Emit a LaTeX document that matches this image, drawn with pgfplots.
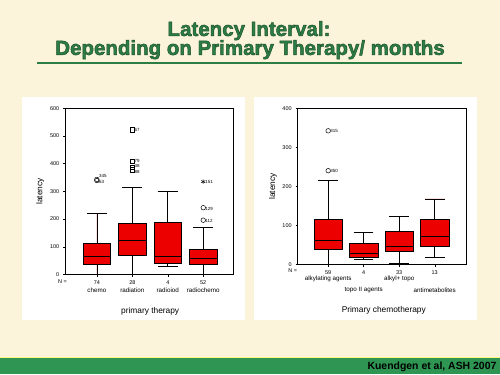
\documentclass[border=0pt]{standalone}
\usepackage{pgfplots}
\pgfplotsset{compat=1.18}
\usepgfplotslibrary{statistics}
\usepackage{fontspec}
\setmainfont{Liberation Sans}
\definecolor{bgcream}{RGB}{251,244,218}
\definecolor{titlegreen}{RGB}{44,125,68}
\definecolor{bargreen}{RGB}{46,150,82}
\definecolor{boxred}{RGB}{236,0,0}
\newcommand{\ticksz}{\fontsize{5.5}{6}\selectfont}
\newcommand{\labsz}{\fontsize{4.5}{5}\selectfont}
\newcommand{\outlined}[1]{\special{pdf:literal 2 Tr 0.45 w 0.10 0.30 0.16 RG}#1\special{pdf:literal 0 Tr}}
\pgfplotsset{
  slide axis/.style={
    scale only axis, clip=false,
    axis line style={black, line width=0.7bp},
    tick align=outside, major tick length=2bp,
    tick style={black, line width=0.5bp},
    ytick pos=left, xtick pos=bottom,
    tick label style={font=\ticksz},
    /pgf/number format/assume math mode=true,
    yticklabel style={xshift=-0.5bp},
    xticklabel style={yshift=-0.5bp},
    xtick={1,2,3,4},
    boxplot/draw direction=y,
  },
  mybox/.style={draw=black, line width=0.6bp, fill=boxred},
  outl/.style={only marks, black, mark size=2.3bp, mark options={line width=0.5bp, fill=white},
    nodes near coords, point meta=explicit symbolic,
    nodes near coords style={anchor=west, xshift=1.5bp, font=\labsz, inner sep=0.5bp, text=black}},
}
\begin{document}
\begin{tikzpicture}[x=1bp,y=1bp]
\fill[bgcream] (0,0) rectangle (500,375);
\fill[white] (21.7,54.3) rectangle (245,278.3);
\fill[white] (254,54.3) rectangle (477.3,278.3);
\fill[bargreen] (0,0) rectangle (500,17);
\draw[yellow!50!white, line width=0.8bp] (0,17.3) -- (500,17.3);
% title
\node[anchor=base, font=\fontsize{20.6}{22}\selectfont\bfseries, text=titlegreen, inner sep=0] at (249,339) {\outlined{Latency Interval:}};
\node[anchor=base, font=\fontsize{20.6}{22}\selectfont\bfseries, text=titlegreen, inner sep=0] at (250,320) {\outlined{Depending on Primary Therapy/ months}};
\draw[titlegreen, line width=1.5bp] (37,312) -- (462,312);
% footer
\node[anchor=base east, font=\fontsize{10.5}{12}\selectfont\bfseries, inner sep=0] at (497,4.5) {Kuendgen et al, ASH 2007};

% ---------- left chart ----------
\begin{axis}[slide axis,
  at={(65bp,100bp)}, anchor=south west,
  width=168bp, height=166.7bp,
  xmin=0.11, xmax=4.84, ymin=0, ymax=600,
  ytick={0,100,...,600},
  xticklabels={74,28,4,52},
]
\addplot[mybox, boxplot prepared={lower whisker=0, lower quartile=37, median=66, upper quartile=113, upper whisker=220, draw position=1, box extend=0.77, whisker extend=0.56}] coordinates {};
\addplot[mybox, boxplot prepared={lower whisker=0, lower quartile=69, median=125, upper quartile=184, upper whisker=313, draw position=2, box extend=0.77, whisker extend=0.56}] coordinates {};
\addplot[mybox, boxplot prepared={lower whisker=30, lower quartile=41, median=66, upper quartile=188, upper whisker=301, draw position=3, box extend=0.77, whisker extend=0.56}] coordinates {};
\addplot[mybox, boxplot prepared={lower whisker=0, lower quartile=37, median=60, upper quartile=91, upper whisker=170, draw position=4, box extend=0.77, whisker extend=0.56}] coordinates {};
\addplot[outl, mark=o, nodes near coords style={yshift=-1.2bp}] table[meta=lab] {
x y lab
1 339 63
4 241 129
4 196 112
};
\addplot[outl, mark=o, nodes near coords style={yshift=3bp}] table[meta=lab] {
x y lab
1 343 345
};
\addplot[outl, mark=square] table[meta=lab] {
x y lab
2 522 67
2 409 79
};
\addplot[outl, mark=square, nodes near coords style={yshift=1.6bp}] table[meta=lab] {
x y lab
2 387 38
};
\addplot[outl, mark=square, nodes near coords style={yshift=-1.6bp}] table[meta=lab] {
x y lab
2 377 88
};
\addplot[outl, mark=asterisk] table[meta=lab] {
x y lab
4 335 151
};
\node[font=\ticksz, anchor=east] at (rel axis cs:0,0) [yshift=-6.7bp, xshift=5bp] {N =};
\node[font=\fontsize{6.3}{7}\selectfont] at (axis cs:1,0) [yshift=-15.7bp] {chemo};
\node[font=\fontsize{6.3}{7}\selectfont] at (axis cs:2,0) [yshift=-15.7bp] {radiation};
\node[font=\fontsize{6.3}{7}\selectfont] at (axis cs:3,0) [yshift=-15.7bp] {radioiod};
\node[font=\fontsize{6.3}{7}\selectfont] at (axis cs:4,0) [yshift=-15.7bp] {radiochemo};
\end{axis}
\node[rotate=90, font=\fontsize{8.4}{9}\selectfont] at (40,183.3) {latency};
\node[font=\fontsize{8.4}{9}\selectfont] at (150,63) {primary therapy};

% ---------- right chart ----------
\begin{axis}[slide axis,
  at={(297.7bp,110bp)}, anchor=south west,
  width=169bp, height=156.7bp,
  xmin=0.14, xmax=4.89, ymin=0, ymax=400,
  ytick={0,100,...,400},
  xticklabels={59,4,33,13},
]
\addplot[mybox, boxplot prepared={lower whisker=0, lower quartile=40, median=62, upper quartile=116, upper whisker=215, draw position=1, box extend=0.8, whisker extend=0.55}] coordinates {};
\addplot[mybox, boxplot prepared={lower whisker=14, lower quartile=19, median=30, upper quartile=55, upper whisker=83, draw position=2, box extend=0.8, whisker extend=0.55}] coordinates {};
\addplot[mybox, boxplot prepared={lower whisker=3, lower quartile=35, median=48, upper quartile=86, upper whisker=123, draw position=3, box extend=0.8, whisker extend=0.55}] coordinates {};
\addplot[mybox, boxplot prepared={lower whisker=19, lower quartile=47, median=72, upper quartile=117, upper whisker=168, draw position=4, box extend=0.8, whisker extend=0.55}] coordinates {};
\addplot[outl, mark=o] table[meta=lab] {
x y lab
1 342 315
1 240 350
};
\node[font=\ticksz, anchor=east] at (rel axis cs:0,0) [yshift=-6.3bp, xshift=3bp] {N =};
\node[font=\fontsize{6.3}{7}\selectfont] at (axis cs:1,0) [yshift=-14.7bp] {alkylating agents};
\node[font=\fontsize{6.3}{7}\selectfont] at (axis cs:2,0) [yshift=-25.3bp] {topo II agents};
\node[font=\fontsize{6.3}{7}\selectfont] at (axis cs:3,0) [yshift=-14.7bp] {alkyl+ topo};
\node[font=\fontsize{6.3}{7}\selectfont] at (axis cs:4,0) [yshift=-25.3bp] {antimetabolites};
\end{axis}
\node[rotate=90, font=\fontsize{8.4}{9}\selectfont] at (273,188.3) {latency};
\node[font=\fontsize{8.4}{9}\selectfont] at (384,64) {Primary chemotherapy};
\end{tikzpicture}
\end{document}
